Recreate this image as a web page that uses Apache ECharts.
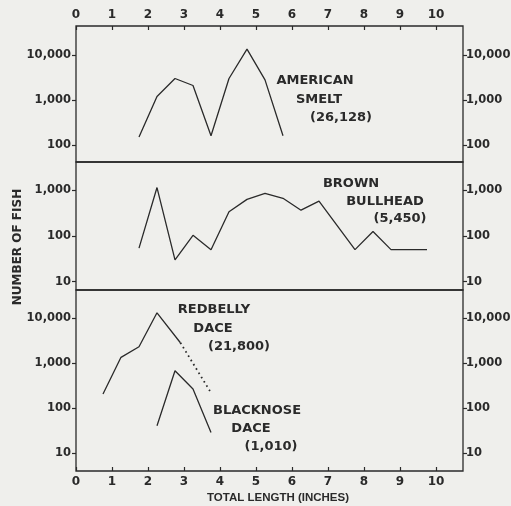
<!DOCTYPE html>
<html><head><meta charset="utf-8">
<script src="https://cdn.jsdelivr.net/npm/echarts@6/dist/echarts.min.js"></script>
<style>html,body{margin:0;padding:0;background:#efefec}#c{width:511px;height:506px}</style>
</head><body><div id="c"></div>
<script>
// ---- data ----
const xTicks = [0,1,2,3,4,5,6,7,8,9,10];
const smeltX = [1.75,2.25,2.75,3.25,3.75,4.25,4.75,5.25,5.75];
const smeltY = [150,1200,3000,2100,160,3000,13500,2800,160];
const bullheadX = [1.75,2.25,2.75,3.25,3.75,4.25,4.75,5.25,5.75,6.25,6.75,7.75,8.25,8.75,9.75];
const bullheadY = [54,1130,30,103,50,335,625,845,658,363,573,50,124,50,50];
const redbellyX = [0.75,1.25,1.75,2.25,2.9];
const redbellyY = [208,1360,2340,13300,2870];
const redbellyDotX = [2.9,3.75];
const redbellyDotY = [2870,222];
const blacknoseX = [2.25,2.75,3.25,3.75];
const blacknoseY = [41,685,268,29];
const yTicks1 = [100,1000,10000];
const yTicks2 = [10,100,1000];
const yTicks3 = [10,100,1000,10000];
const smeltLabel = ['AMERICAN','SMELT','(26,128)'];
const bullheadLabel = ['BROWN','BULLHEAD','(5,450)'];
const redbellyLabel = ['REDBELLY','DACE','(21,800)'];
const blacknoseLabel = ['BLACKNOSE','DACE','(1,010)'];
const yTitle = 'NUMBER OF FISH';
const xTitle = 'TOTAL LENGTH (INCHES)';

// ---- chart ----
const INK = '#2a2a2a';
const FONT = 'DejaVu Sans';
const pairs = (xs, ys) => xs.map((x, i) => [x, ys[i]]);
const fmt = v => Number(v).toLocaleString('en-US');

const grids = [
  {left:76, right:48, top:26, height:136},
  {left:76, right:48, top:162, height:128},
  {left:76, right:48, top:290, height:181}
].map(g => Object.assign(g, {show:true, containLabel:false, outerBoundsMode:'none',
  borderColor:INK, borderWidth:1.3, backgroundColor:'transparent'}));

function xAxis(gi, pos, show) {
  return {
    type:'value', gridIndex:gi, position:pos, min:0, max:10.75,
    axisLine:{show:false}, splitLine:{show:false},
    axisTick:{show:show, inside:true, length:4, lineStyle:{color:INK, width:1.2}, customValues:xTicks},
    axisLabel:{show:show, margin:5, color:INK, fontFamily:FONT, fontWeight:'bold', fontSize:12, customValues:xTicks}
  };
}
function yAxis(gi, pos, min, max, ticks) {
  return {
    type:'log', logBase:10, gridIndex:gi, position:pos, min:min, max:max,
    axisLine:{show:false}, splitLine:{show:false}, minorTick:{show:false},
    axisTick:{show:true, inside:false, length:4, lineStyle:{color:INK, width:1.2}, customValues:ticks},
    axisLabel:{margin: pos === 'right' ? 3 : 5, color:INK, fontFamily:FONT, fontWeight:'bold', fontSize:11.5, formatter:fmt, customValues:ticks}
  };
}
const yR = [[41.9,44060,yTicks1],[6.6,4074,yTicks2],[4.05,42660,yTicks3]];
const yAxes = [];
yR.forEach((r, gi) => { yAxes.push(yAxis(gi,'left',r[0],r[1],r[2])); yAxes.push(yAxis(gi,'right',r[0],r[1],r[2])); });

function line(data, xi, yi, dash) {
  return {
    type:'line', xAxisIndex:xi, yAxisIndex:yi, data:data, showSymbol:false, symbol:'none',
    lineStyle:{color:INK, width: dash ? 1.8 : 1.3, type: dash || 'solid'}, silent:true
  };
}

function textBlock(lines, cx, cy, dy) {
  return lines.map((t, i) => ({
    type:'text', x:cx[i], y:cy + i*dy,
    style:{text:t, fill:INK, font:'bold 13px "' + FONT + '"', textAlign:'center', textVerticalAlign:'middle'}
  }));
}

const chart = echarts.init(document.getElementById('c'), null, {renderer:'canvas'});
chart.setOption({
  backgroundColor:'#efefec',
  animation:false,
  grid: grids,
  xAxis:[xAxis(0,'top',true), xAxis(1,'bottom',false), xAxis(2,'bottom',true)],
  yAxis: yAxes,
  series:[
    line(pairs(smeltX, smeltY), 0, 0),
    line(pairs(bullheadX, bullheadY), 1, 2),
    line(pairs(redbellyX, redbellyY), 2, 4),
    line(pairs(redbellyDotX, redbellyDotY), 2, 4, [1.6,3.4]),
    line(pairs(blacknoseX, blacknoseY), 2, 4)
  ],
  graphic:[
    {type:'text', x:18, y:247, rotation:Math.PI/2,
     style:{text:yTitle, fill:INK, font:'bold 12px "' + FONT + '"', textAlign:'center', textVerticalAlign:'middle'}},
    {type:'text', x:278, y:498,
     style:{text:xTitle, fill:INK, font:'bold 11.5px "Liberation Sans"', textAlign:'center', textVerticalAlign:'middle'}}
  ].concat(
    textBlock(smeltLabel, [315,319,341], 81, 18.5),
    textBlock(bullheadLabel, [351,385,400], 184, 17.5),
    textBlock(redbellyLabel, [214,213,239], 310, 18.5),
    textBlock(blacknoseLabel, [257,251,271], 411, 18)
  )
});
</script>
</body></html>
